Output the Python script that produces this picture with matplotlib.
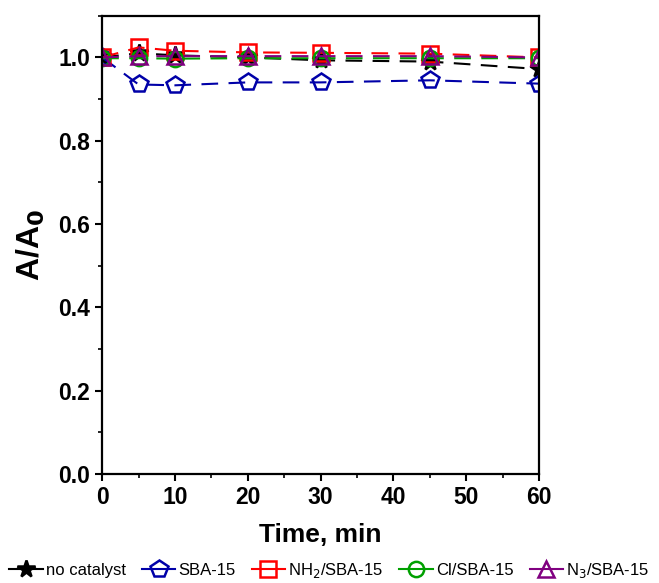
import matplotlib
matplotlib.use("Agg")
import matplotlib.pyplot as plt
from matplotlib.lines import Line2D
from matplotlib.ticker import MultipleLocator, FormatStrFormatter

plt.rcParams['font.family'] = ['Liberation Sans', 'DejaVu Sans']

time = [0, 5, 10, 20, 30, 45, 60]
no_catalyst = [1.0, 1.01, 1.005, 1.0, 0.993, 0.99, 0.972]
sba15 = [1.0, 0.935, 0.933, 0.94, 0.94, 0.945, 0.937]
nh2_sba15 = [1.0, 1.024, 1.016, 1.012, 1.011, 1.009, 1.0]
cl_sba15 = [0.998, 0.998, 0.997, 0.998, 0.998, 0.998, 0.998]
n3_sba15 = [1.0, 1.003, 1.003, 1.003, 1.003, 1.003, 1.0]

labels = ['no catalyst', 'SBA-15', r'NH$_2$/SBA-15', 'Cl/SBA-15', r'N$_3$/SBA-15']
series = [no_catalyst, sba15, nh2_sba15, cl_sba15, n3_sba15]
colors = ['#000000', '#0000A8', '#FF0000', '#00A000', '#800080']
markers = ['*', 'p', 's', 'o', '^']
msizes = [13, 13, 11, 11, 12]

fig = plt.figure(figsize=(6.59, 5.83), dpi=100)
ax = fig.add_axes([0.155, 0.187, 0.663, 0.786])

for y, c, m, ms in zip(series, colors, markers, msizes):
    mfc = c if m == '*' else 'none'
    ax.plot(time, y, linestyle='--', color=c, lw=1.5, marker=m, ms=ms,
            mfc=mfc, mec=c, mew=1.8, dashes=(8, 5))

ax.set_xlim(0, 60)
ax.set_ylim(0, 1.1)
ax.xaxis.set_major_locator(MultipleLocator(10))
ax.xaxis.set_minor_locator(MultipleLocator(5))
ax.yaxis.set_major_locator(MultipleLocator(0.2))
ax.yaxis.set_minor_locator(MultipleLocator(0.1))
ax.tick_params(which='major', direction='out', length=5, width=1.5, labelsize=16.5)
ax.tick_params(which='minor', direction='out', length=3, width=1.2)
ax.yaxis.set_major_formatter(FormatStrFormatter('%.1f'))
for lab in ax.get_xticklabels() + ax.get_yticklabels():
    lab.set_fontweight('bold')
for s in ax.spines.values():
    s.set_linewidth(1.6)

ax.set_xlabel('Time, min', fontsize=19, fontweight='bold', labelpad=10)
ax.set_ylabel(r'A/A$_\mathbf{0}$', fontsize=23, fontweight='bold', labelpad=8)

handles = []
for c, m, ms, l in zip(colors, markers, msizes, labels):
    mfc = c if m == '*' else 'none'
    handles.append(Line2D([], [], color=c, lw=1.5, marker=m, ms=ms, mfc=mfc, mec=c, mew=1.8))
fig.legend(handles, labels, loc='lower center', bbox_to_anchor=(0.5, -0.02), ncol=5,
           frameon=False, fontsize=12, handlelength=2.0, handletextpad=0.2,
           columnspacing=0.95)

fig.savefig('out.png', dpi=100)
